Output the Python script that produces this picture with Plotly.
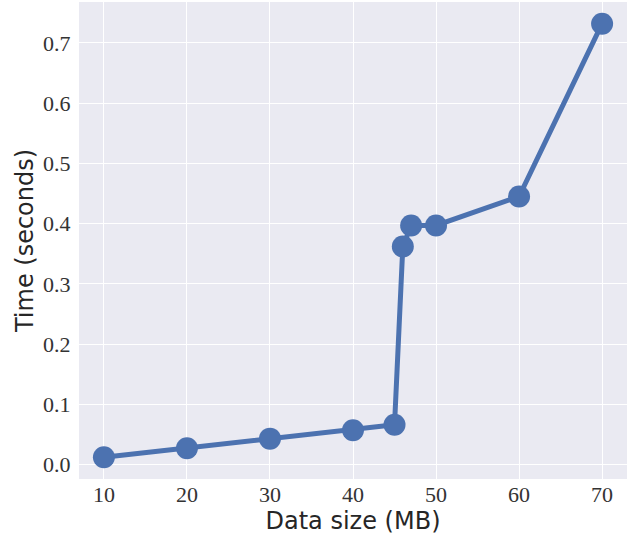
import plotly.graph_objects as go

data_size = [10, 20, 30, 40, 45, 46, 47, 50, 60, 70]
time_sec = [0.012, 0.027, 0.043, 0.057, 0.066, 0.362, 0.397, 0.397, 0.445, 0.732]

x_ticks = [10, 20, 30, 40, 50, 60, 70]
y_ticks = [0.0, 0.1, 0.2, 0.3, 0.4, 0.5, 0.6, 0.7]
y_tick_text = [f"{v:.1f}" for v in y_ticks]

color = "#4C72B0"
tick_font = dict(family="Liberation Serif, DejaVu Serif, serif", size=22, color="#333333")
title_font = dict(family="DejaVu Sans, sans-serif", size=24, color="#262626")

fig = go.Figure()
fig.add_trace(go.Scatter(
    x=data_size, y=time_sec, mode="lines+markers",
    line=dict(color=color, width=5),
    marker=dict(color=color, size=22),
    showlegend=False,
))

fig.update_layout(
    width=632, height=537,
    margin=dict(l=79, r=5, t=2, b=58),
    paper_bgcolor="white",
    plot_bgcolor="#EAEAF2",
    xaxis=dict(
        range=[7, 73], tickvals=x_ticks, ticktext=[str(v) for v in x_ticks],
        showgrid=True, gridcolor="white", gridwidth=1.2, zeroline=False,
        showline=False, ticks="",
        tickfont=tick_font,
        title=dict(text="Data size (MB)", standoff=2, font=title_font),
    ),
    yaxis=dict(
        range=[-0.024, 0.768], tickvals=y_ticks, ticktext=y_tick_text,
        showgrid=True, gridcolor="white", gridwidth=1.2, zeroline=False,
        showline=False, ticks="outside", ticklen=3, tickcolor="rgba(0,0,0,0)",
        tickfont=tick_font,
        title=dict(text="Time (seconds)", standoff=2, font=title_font),
    ),
)

fig.write_html("out.html", config={"displayModeBar": False},
               post_script="document.body.style.margin='0';")
